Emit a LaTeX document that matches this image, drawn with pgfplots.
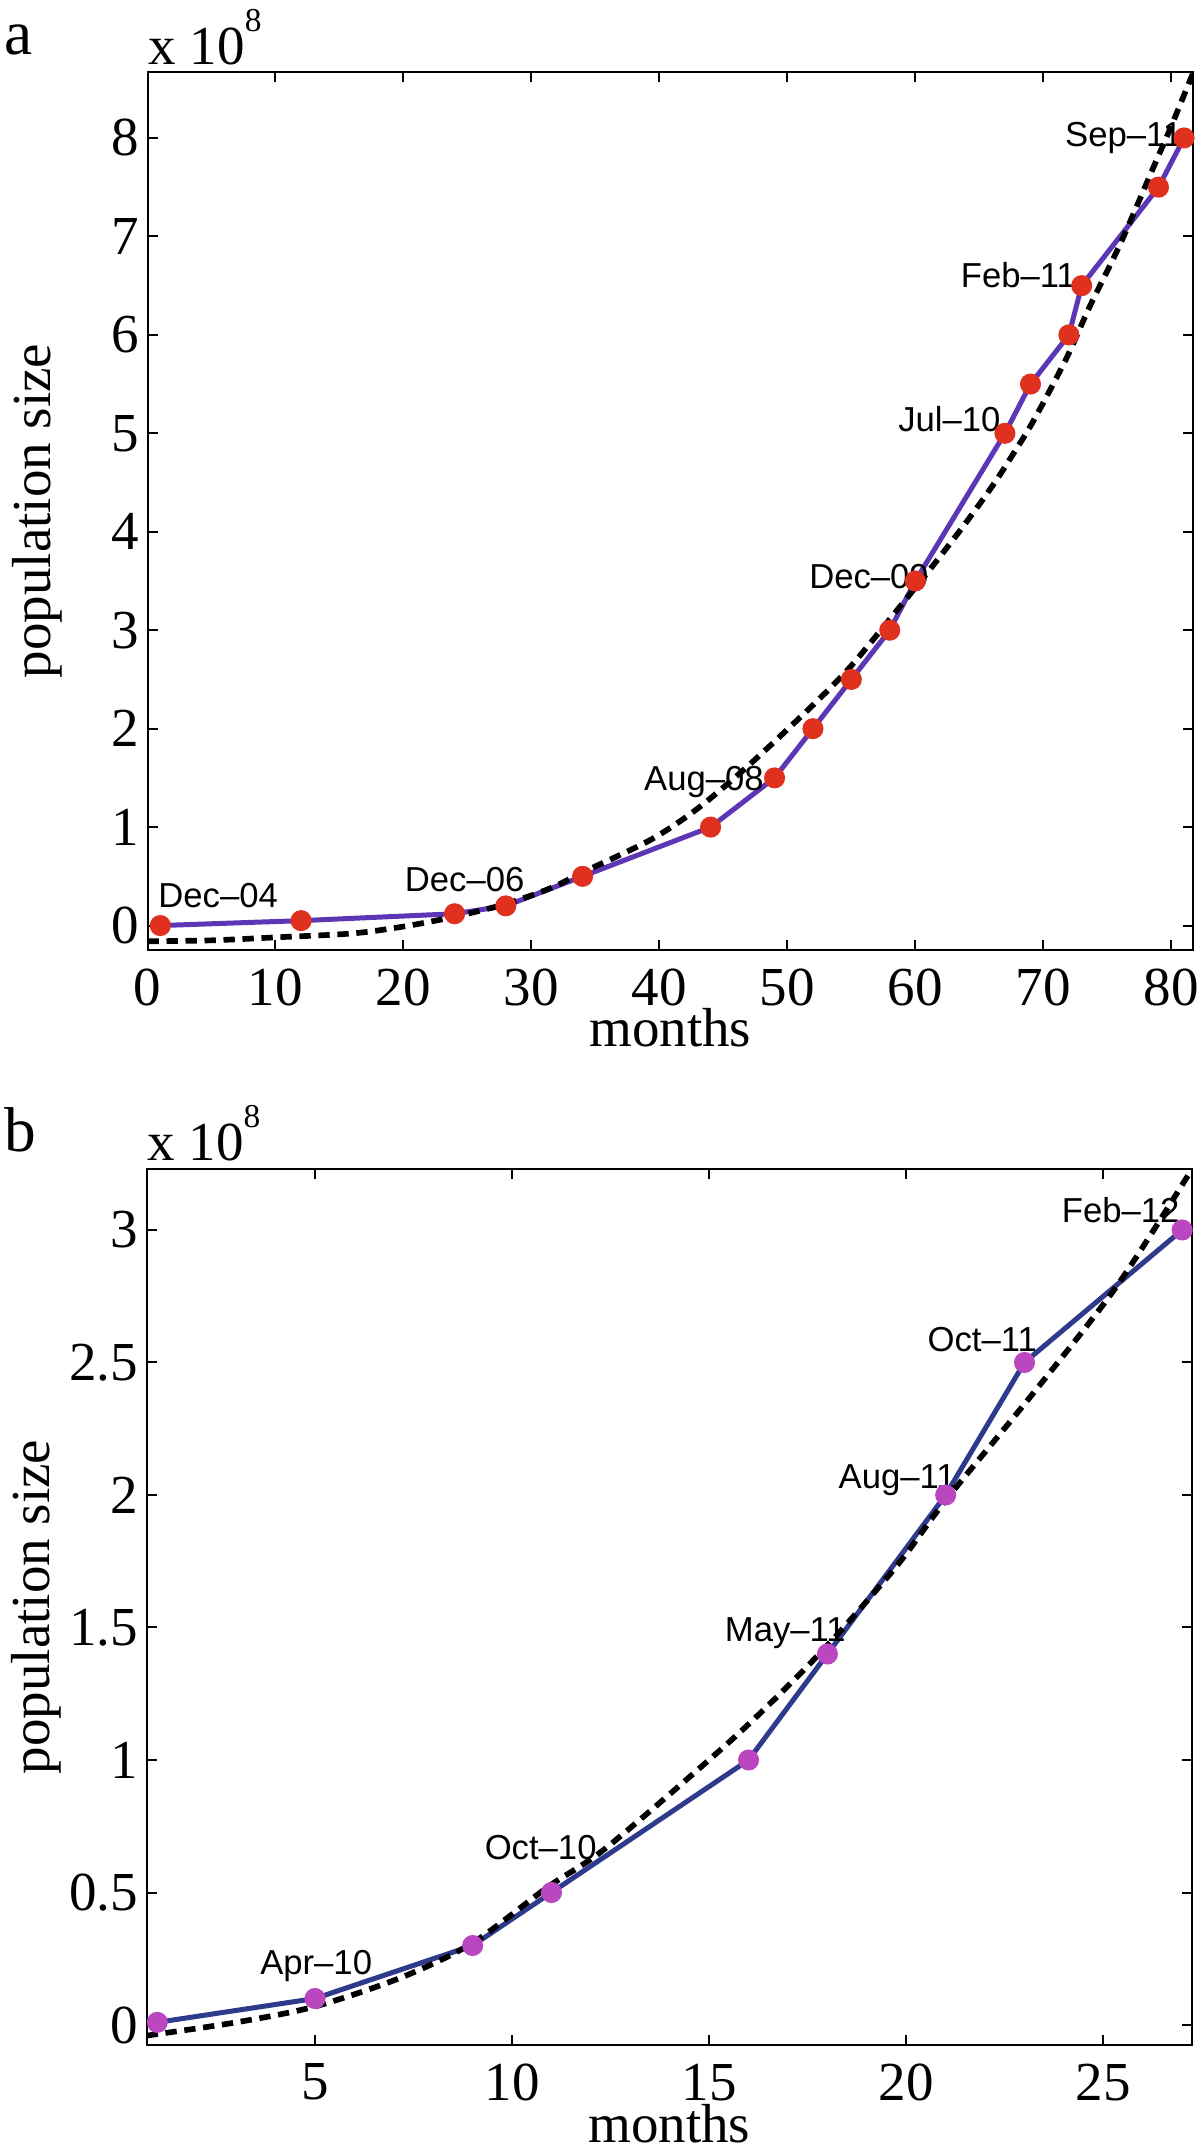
\documentclass[border=0pt]{standalone}
\usepackage{fontspec}
\setmainfont{Liberation Serif}
\newfontfamily\hv{Liberation Sans}
\usepackage{pgfplots}
\pgfplotsset{compat=1.18}
\definecolor{lineA}{RGB}{92,54,180}
\definecolor{dotA}{RGB}{224,48,30}
\definecolor{lineB}{RGB}{46,58,140}
\definecolor{dotB}{RGB}{186,70,192}
\pgfplotsset{common/.style={
  scale only axis,
  /pgf/number format/assume math mode=true,
  axis line style={line width=0.6pt},
  tick style={line width=0.6pt, black},
  major tick length=3pt,
  tick align=inside,
  ticklabel style={font=\fontsize{16.5}{16.5}\selectfont},
  yticklabel style={anchor=east, inner sep=0pt, xshift=-2.4pt},
  xticklabel style={anchor=north, inner sep=0pt, yshift=-5.4pt},
  label style={font=\fontsize{16.5}{16.5}\selectfont},
  xlabel style={at={([yshift=-29.1pt]axis description cs:0.5,0)}, anchor=base},
  ylabel style={at={([xshift=-29.25pt]axis description cs:0,0.5)}, anchor=base},
  clip=true,
}}
\newcommand{\lab}{\hv\fontsize{10.4}{10.4}\selectfont}
\begin{document}
\begin{tikzpicture}
\path[use as bounding box] (0,0) rectangle (360pt,-646.5pt);
% ---------------- panel a
\begin{axis}[common,
  at={(44.25pt,-21.6pt)}, anchor=north west,
  width=313.65pt, height=263.4pt,
  xmin=0, xmax=81.7, ymin=-0.248, ymax=8.67,
  xtick={0,10,...,80}, ytick={0,1,...,8},
  xlabel={months}, ylabel={population size}]
\addplot[lineA, line width=1.5pt, mark=*, mark size=2.4pt,
  mark options={fill=dotA, draw=dotA}] coordinates {
  (1,0.0) (12,0.05) (24,0.12) (28,0.2) (34,0.5) (44,1.0) (49,1.5)
  (52,2.0) (55,2.5) (58,3.0) (60,3.5) (67,5.0) (69,5.5) (72,6.0)
  (73,6.5) (79,7.5) (81,8.0)};
\addplot[black, line width=1.7pt, dash pattern=on 3.4pt off 2.3pt, smooth] coordinates {
  (0,-0.16) (5,-0.15) (10,-0.12) (16,-0.08) (20,-0.01) (24,0.09) (28,0.22)
  (31.5,0.38) (34,0.54) (39.3,0.87) (43,1.19) (47,1.63) (52,2.24) (55,2.64)
  (58.8,3.24) (61.4,3.66) (64,4.1) (66.1,4.48) (67.5,4.76) (69.2,5.12)
  (71.8,5.76) (73.6,6.28) (76,6.92) (78.6,7.7) (80,8.12) (81.7,8.66)};
\node[font=\lab, anchor=base west, inner sep=0pt] at (axis cs:0.8,0.18) {Dec–04};
\node[font=\lab, anchor=base east, inner sep=0pt] at (axis cs:29.5,0.35) {Dec–06};
\node[font=\lab, anchor=base east, inner sep=0pt] at (axis cs:48.2,1.37) {Aug–08};
\node[font=\lab, anchor=base east, inner sep=0pt] at (axis cs:61.1,3.42) {Dec–09};
\node[font=\lab, anchor=base east, inner sep=0pt] at (axis cs:66.7,5.02) {Jul–10};
\node[font=\lab, anchor=base east, inner sep=0pt] at (axis cs:72.6,6.48) {Feb–11};
\node[font=\lab, anchor=base east, inner sep=0pt] at (axis cs:80.9,7.91) {Sep–11};
\end{axis}
% ---------------- panel b
\begin{axis}[common,
  at={(44.0pt,-350.7pt)}, anchor=north west,
  width=313.6pt, height=262.8pt,
  xmin=0.73, xmax=27.25, ymin=-0.0755, ymax=3.23,
  xtick={5,10,...,25}, ytick={0,0.5,...,3},
  xlabel={months}, ylabel={population size}]
\addplot[lineB, line width=1.5pt, mark=*, mark size=2.4pt,
  mark options={fill=dotB, draw=dotB}] coordinates {
  (1,0.01) (5,0.1) (9,0.3) (11,0.5) (16,1.0) (18,1.4) (21,2.0) (23,2.5) (27,3.0)};
\addplot[black, line width=1.7pt, dash pattern=on 3.4pt off 2.3pt, smooth] coordinates {
  (0.73,-0.04) (3,0.01) (5,0.07) (7.2,0.18) (9,0.31) (10.9,0.52) (12.4,0.67)
  (15.3,1.04) (16.8,1.25) (18.2,1.465) (19.8,1.74) (21,1.98) (23.2,2.38)
  (25.35,2.79) (27.25,3.23)};
\node[font=\lab, anchor=base, inner sep=0pt] at (axis cs:5.03,0.192) {Apr–10};
\node[font=\lab, anchor=base east, inner sep=0pt] at (axis cs:12.16,0.625) {Oct–10};
\node[font=\lab, anchor=base east, inner sep=0pt] at (axis cs:18.48,1.446) {May–11};
\node[font=\lab, anchor=base east, inner sep=0pt] at (axis cs:21.27,2.025) {Aug–11};
\node[font=\lab, anchor=base east, inner sep=0pt] at (axis cs:23.33,2.54) {Oct–11};
\node[font=\lab, anchor=base east, inner sep=0pt] at (axis cs:26.95,3.03) {Feb–12};
\end{axis}
% ---------------- panel letters and exponent labels
\node[anchor=base west, inner sep=0pt, font=\fontsize{19}{19}\selectfont] at (1pt,-16.5pt) {a};
\node[anchor=base west, inner sep=0pt, font=\fontsize{19}{19}\selectfont] at (1pt,-345.5pt) {b};
\node[anchor=base west, inner sep=0pt, font=\fontsize{16.5}{16.5}\selectfont] at (44.4pt,-19.5pt) {x 10\raisebox{9.9pt}{\fontsize{10}{10}\selectfont 8}};
\node[anchor=base west, inner sep=0pt, font=\fontsize{16.5}{16.5}\selectfont] at (44.0pt,-348pt) {x 10\raisebox{9.9pt}{\fontsize{10}{10}\selectfont 8}};
\end{tikzpicture}
\end{document}
